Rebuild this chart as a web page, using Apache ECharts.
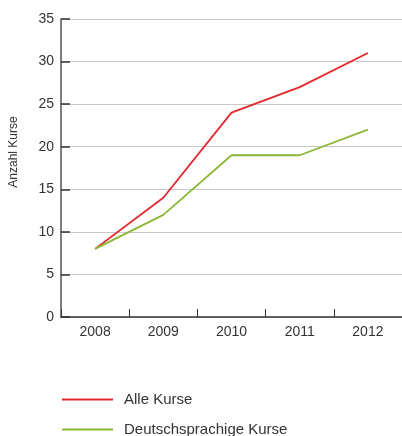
<!DOCTYPE html>
<html>
<head>
<meta charset="utf-8">
<script src="https://cdn.jsdelivr.net/npm/echarts@6/dist/echarts.min.js"></script>
<style>
html,body{margin:0;padding:0;background:#fff;}
#c{width:402px;height:436px;}
</style>
</head>
<body>
<div id="c"></div>
<script>
var categories = ['2008', '2009', '2010', '2011', '2012'];
var alleKurse = [8, 14, 24, 27, 31];
var deutschKurse = [8, 12, 19, 19, 22];
var seriesNames = ['Alle Kurse', 'Deutschsprachige Kurse'];
var yAxisName = 'Anzahl Kurse';

var chart = echarts.init(document.getElementById('c'), null, {renderer: 'canvas'});
var font = 'Liberation Sans, Arial, sans-serif';
function legendFor(name, top) {
  return {
    orient: 'horizontal',
    left: 62,
    top: top,
    padding: 0,
    itemWidth: 51,
    itemHeight: 2,
    icon: 'rect',
    textStyle: {fontSize: 15, color: '#333', fontFamily: font, padding: [8, 0, 0, 6]},
    data: [name]
  };
}
chart.setOption({
  animation: false,
  textStyle: {fontFamily: font},
  grid: {left: 61, top: 19, right: 0, bottom: 119, containLabel: false},
  legend: [legendFor(seriesNames[0], 392), legendFor(seriesNames[1], 422)],
  graphic: [{
    type: 'text',
    x: 8,
    y: 152,
    rotation: Math.PI / 2,
    style: {
      text: yAxisName,
      fontSize: 12,
      fill: '#333',
      fontFamily: font,
      align: 'center',
      verticalAlign: 'top'
    }
  }],
  xAxis: {
    type: 'category',
    data: categories,
    boundaryGap: true,
    axisLine: {lineStyle: {color: '#333', width: 1.5}},
    axisTick: {show: true, inside: true, length: 8, lineStyle: {color: '#333', width: 1}},
    axisLabel: {fontSize: 14, color: '#333', margin: 8, fontFamily: font},
    splitLine: {show: false}
  },
  yAxis: {
    type: 'value',
    min: 0,
    max: 35,
    interval: 5,
    axisLine: {show: true, lineStyle: {color: '#555', width: 1.5}},
    axisTick: {show: true, inside: true, length: 9, lineStyle: {color: '#333', width: 1.5}},
    axisLabel: {fontSize: 14, color: '#333', margin: 7, fontFamily: font},
    splitLine: {show: true, lineStyle: {color: '#c8c8c8', width: 1.2}}
  },
  series: [
    {
      name: seriesNames[0],
      type: 'line',
      data: alleKurse,
      symbol: 'none',
      lineStyle: {color: '#e3262b', width: 1.8},
      itemStyle: {color: '#e3262b'}
    },
    {
      name: seriesNames[1],
      type: 'line',
      data: deutschKurse,
      symbol: 'none',
      lineStyle: {color: '#8ab833', width: 1.8},
      itemStyle: {color: '#8ab833'}
    }
  ]
});
</script>
</body>
</html>
